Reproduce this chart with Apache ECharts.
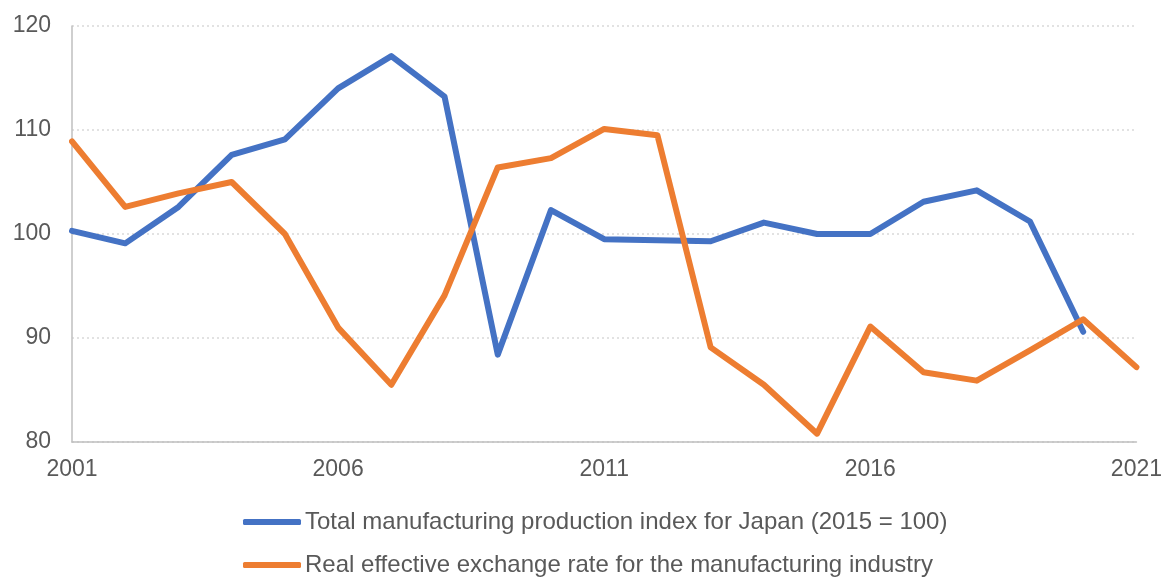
<!DOCTYPE html>
<html>
<head>
<meta charset="utf-8">
<script src="https://cdn.jsdelivr.net/npm/echarts@6/dist/echarts.min.js"></script>
<style>
html,body{margin:0;padding:0;background:#fff;}
#chart{width:1165px;height:577px;}
</style>
</head>
<body>
<div id="chart"></div>
<script>
const years = ['2001','2002','2003','2004','2005','2006','2007','2008','2009','2010','2011','2012','2013','2014','2015','2016','2017','2018','2019','2020','2021'];
const productionIndex = [100.3, 99.1, 102.6, 107.6, 109.1, 114.0, 117.1, 113.2, 88.4, 102.3, 99.5, 99.4, 99.3, 101.1, 100.0, 100.0, 103.1, 104.2, 101.2, 90.6, null];
const exchangeRate = [108.9, 102.6, 103.9, 105.0, 100.0, 91.0, 85.5, 94.1, 106.4, 107.3, 110.1, 109.5, 89.1, 85.5, 80.8, 91.1, 86.7, 85.9, 88.8, 91.8, 87.2];
const seriesNames = ['Total manufacturing production index for Japan (2015 = 100)', 'Real effective exchange rate for the manufacturing industry'];

const chart = echarts.init(document.getElementById('chart'), null, {renderer: 'canvas'});
const font = 'Liberation Sans, Arial, sans-serif';
chart.setOption({
  animation: false,
  backgroundColor: '#ffffff',
  grid: {left: 72, right: 27, top: 26, bottom: 135, containLabel: false},
  legend: {
    orient: 'vertical',
    left: 243,
    top: 510,
    height: 80,
    padding: 0,
    itemWidth: 58,
    itemHeight: 6,
    itemGap: 19,
    icon: 'roundRect',
    textStyle: {fontFamily: font, fontSize: 24, lineHeight: 24, color: '#595959', padding: [0,0,0,-1]},
    data: seriesNames
  },
  xAxis: {
    type: 'category',
    data: years,
    boundaryGap: false,
    axisLine: {show: true, lineStyle: {color: '#bfbfbf', width: 1.5}},
    axisTick: {show: false},
    axisLabel: {interval: 4, fontFamily: font, fontSize: 23, color: '#595959', margin: 16, showMaxLabel: true},
    splitLine: {show: false}
  },
  yAxis: {
    type: 'value',
    min: 80, max: 120, interval: 10,
    axisLine: {show: true, lineStyle: {color: '#bfbfbf', width: 1.5}},
    axisTick: {show: false},
    axisLabel: {fontFamily: font, fontSize: 23, color: '#595959', margin: 21},
    splitLine: {show: true, lineStyle: {color: '#d9d9d9', type: [2, 3], width: 1.5}}
  },
  series: [
    {
      name: seriesNames[0], type: 'line', data: productionIndex,
      showSymbol: false, symbol: 'none',
      lineStyle: {color: '#4472C4', width: 6, cap: 'round', join: 'round'},
      itemStyle: {color: '#4472C4'}
    },
    {
      name: seriesNames[1], type: 'line', data: exchangeRate,
      showSymbol: false, symbol: 'none',
      lineStyle: {color: '#ED7D31', width: 6, cap: 'round', join: 'round'},
      itemStyle: {color: '#ED7D31'}
    }
  ]
});
</script>
</body>
</html>
